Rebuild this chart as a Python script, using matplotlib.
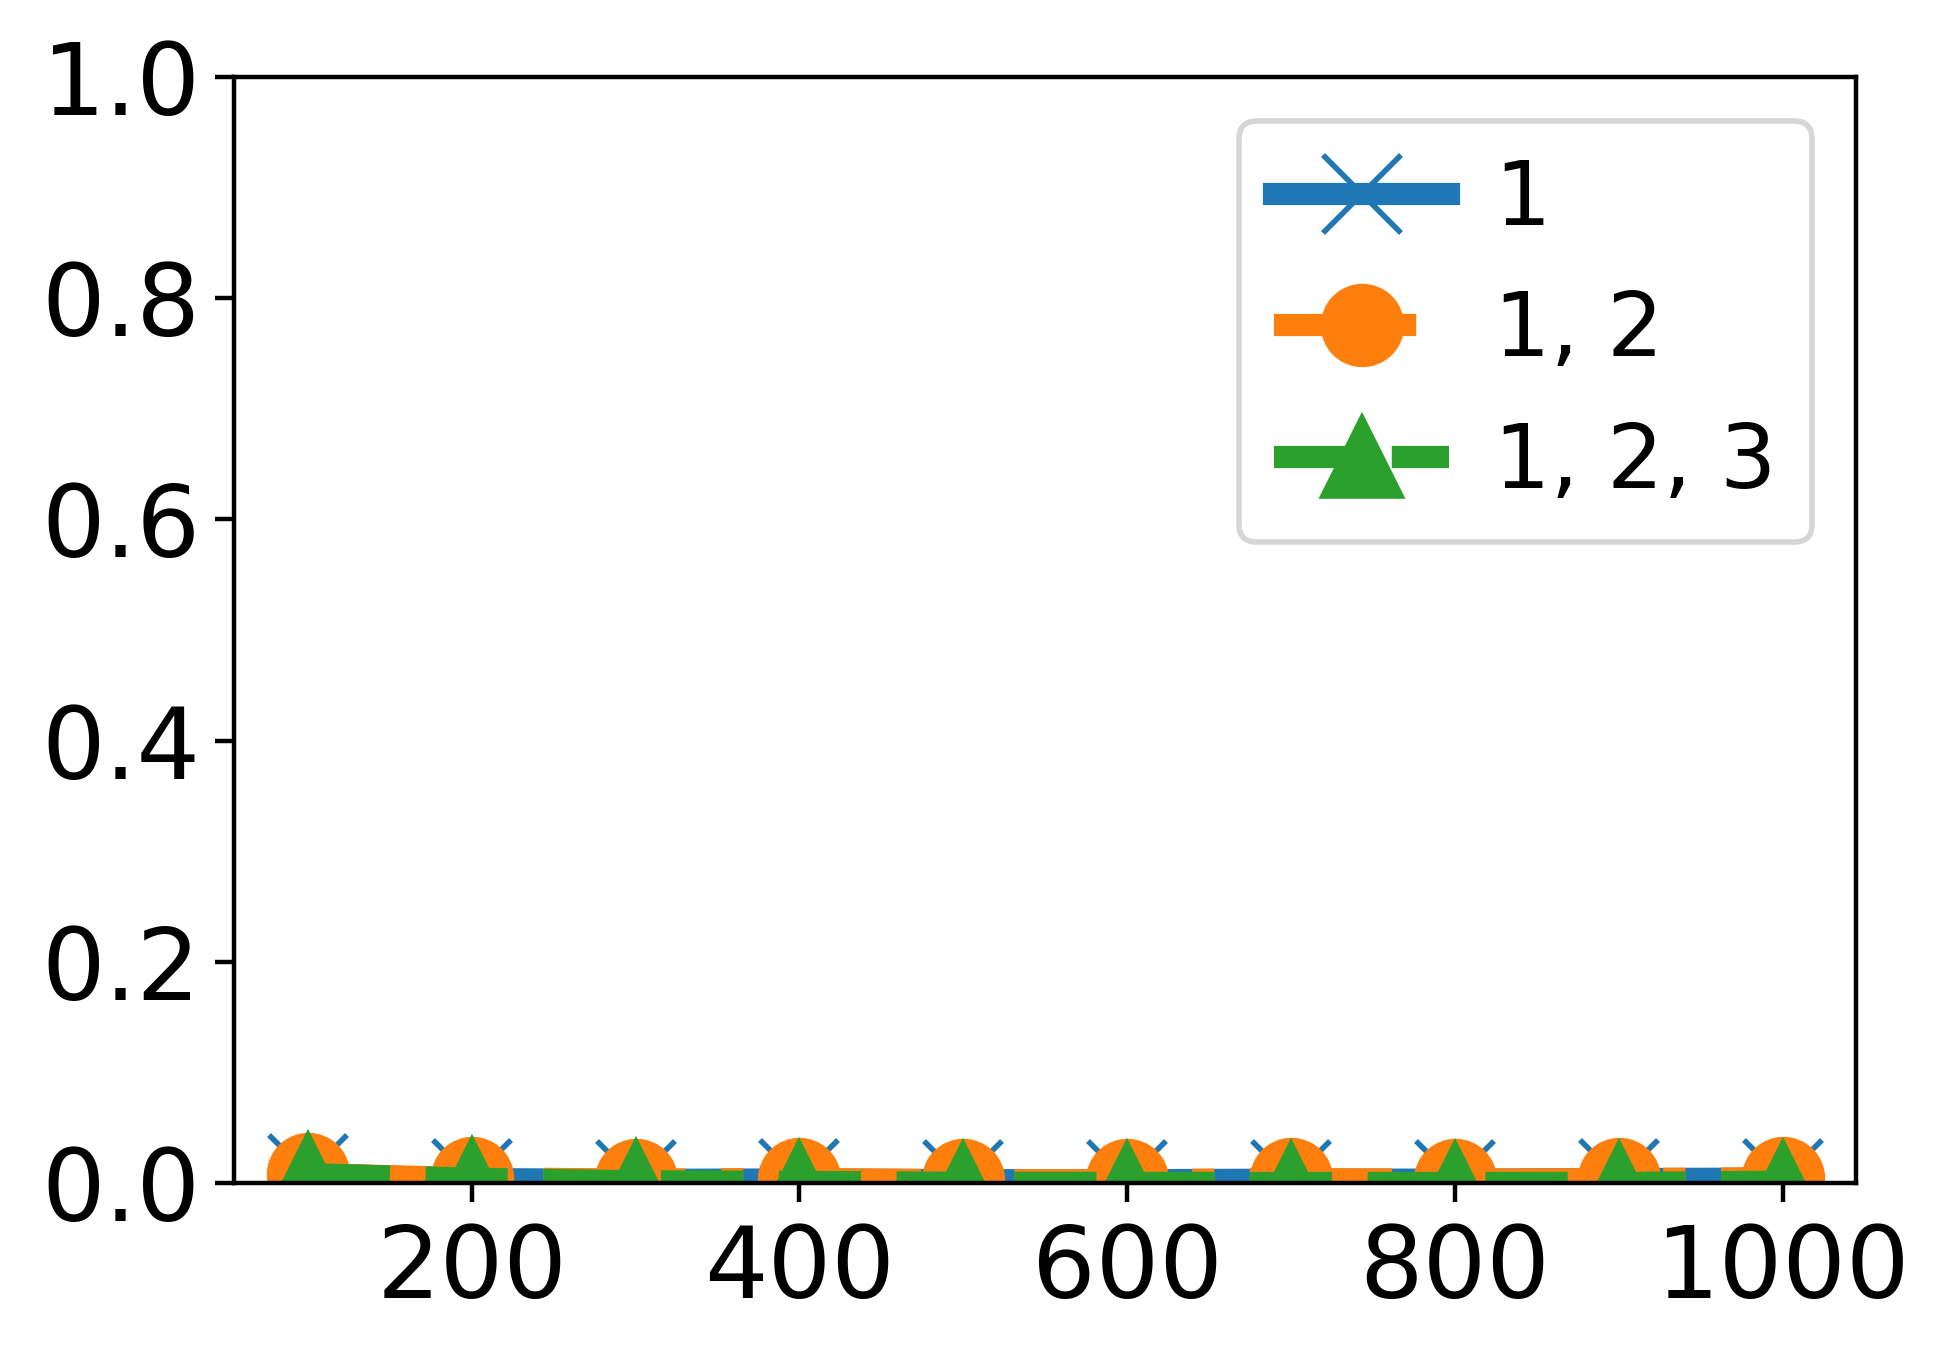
import matplotlib
matplotlib.use("Agg")
import matplotlib.pyplot as plt

x_values = [100, 200, 300, 400, 500, 600, 700, 800, 900, 1000]
series_1 = [0.008, 0.0035, 0.0028, 0.0032, 0.0025, 0.0025, 0.0030, 0.0030, 0.0035, 0.0040]
series_12 = [0.008, 0.0043, 0.0030, 0.0037, 0.0025, 0.0025, 0.0035, 0.0030, 0.0035, 0.0043]
series_123 = [0.008, 0.0038, 0.0015, 0.0010, 0.0002, 0.0001, 0.0, 0.0, 0.0, 0.0012]
labels = ["1", "1, 2", "1, 2, 3"]

fig = plt.figure(figsize=(4.875, 3.4025), dpi=400)
ax = fig.add_axes([0.120, 0.1308, 0.832, 0.8126])

ax.plot(x_values, series_1, color="C0", linestyle="-", linewidth=4,
        marker="x", markersize=14, label=labels[0])
ax.plot(x_values, series_12, color="C1", linestyle="-.", linewidth=4,
        marker="o", markersize=14, label=labels[1])
ax.plot(x_values, series_123, color="C2", linestyle="--", linewidth=4,
        marker="^", markersize=14, label=labels[2])

ax.set_ylim(0, 1.0)
ax.set_yticks([0.0, 0.2, 0.4, 0.6, 0.8, 1.0])
ax.set_xticks([200, 400, 600, 800, 1000])
ax.tick_params(labelsize=18)
ax.tick_params(axis="y", pad=2.6)
ax.legend(loc="upper right", fontsize=16, handlelength=1.97, handletextpad=0.5)

fig.savefig("out.png", dpi=400)
